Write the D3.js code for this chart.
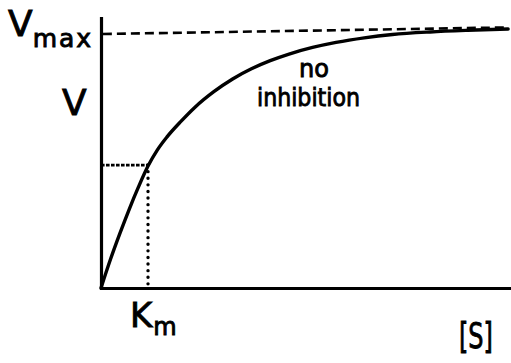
<!DOCTYPE html>
<html>
<head>
<meta charset="utf-8">
<script src="https://cdn.jsdelivr.net/npm/d3@7"></script>
<style>
  html, body { margin: 0; padding: 0; background: #fff; }
  svg { display: block; }
  text { font-family: "DejaVu Sans", sans-serif; fill: #000; stroke: #000; stroke-width: 0.9; }
</style>
</head>
<body>
<script>
// ---- data (S in units of Km, V in units of Vmax) ----
const curveS = [0, 0.2, 0.4, 0.6, 0.8, 1.0, 1.2, 1.4, 1.7, 2.0, 2.4, 2.8, 3.2, 3.6, 4.0, 4.5, 5.0, 5.6, 6.2, 7.0, 7.8, 8.66];
const curveV = [0, 0.112, 0.214, 0.310, 0.399, 0.480, 0.544, 0.594, 0.656, 0.712, 0.773, 0.823, 0.863, 0.895, 0.921, 0.947, 0.967, 0.985, 0.998, 1.008, 1.0145, 1.0197];
const vmaxLineS = [0.04, 8.66];
const vmaxLineV = [1.0, 1.026];
const Km = 1.0;
const VatKm = 0.484;
const labels = { vmax: "V", vmaxSub: "max", v: "V", km: "K", kmSub: "m", s: "[S]", curve1: "no", curve2: "inhibition" };

const W = 511, H = 363;
const svg = d3.select("body").append("svg").attr("width", W).attr("height", H);

const x = d3.scaleLinear().domain([0, 8.7]).range([101, 510]);
const y = d3.scaleLinear().domain([0, 1.063]).range([288, 18]);

// axes (domain lines only)
svg.append("g").attr("transform", `translate(${x(0)},0)`)
  .call(d3.axisLeft(y).tickValues([]).tickSizeOuter(0));
svg.append("g").attr("transform", `translate(0,${y(0)})`)
  .call(d3.axisBottom(x).tickValues([]).tickSizeOuter(0));
svg.selectAll(".domain").attr("stroke", "#000").attr("stroke-width", 3.2).attr("stroke-linecap", "square");

// Vmax dashed line
svg.append("path")
  .datum(vmaxLineS.map((s, i) => [s, vmaxLineV[i]]))
  .attr("d", d3.line().x(d => x(d[0])).y(d => y(d[1])))
  .attr("fill", "none").attr("stroke", "#000").attr("stroke-width", 2.6)
  .attr("stroke-dasharray", "9,5");

// Km guides
svg.append("path")
  .datum([[0, VatKm], [Km, VatKm]])
  .attr("d", d3.line().x(d => x(d[0])).y(d => y(d[1])))
  .attr("fill", "none").attr("stroke", "#000").attr("stroke-width", 2.8)
  .attr("stroke-dasharray", "3.6,1.4");
svg.append("path")
  .datum([[Km, VatKm], [Km, 0]])
  .attr("d", d3.line().x(d => x(d[0])).y(d => y(d[1])))
  .attr("fill", "none").attr("stroke", "#000").attr("stroke-width", 3.4)
  .attr("stroke-linecap", "round")
  .attr("stroke-dasharray", "0,6.6");

// curve
svg.append("path")
  .datum(curveS.map((s, i) => [s, curveV[i]]))
  .attr("d", d3.line().x(d => x(d[0])).y(d => y(d[1])).curve(d3.curveMonotoneX))
  .attr("fill", "none").attr("stroke", "#000").attr("stroke-width", 3.4)
  .attr("stroke-linecap", "round");

// labels
const vm = svg.append("text").attr("x", 8).attr("y", y(1) + 2);
vm.append("tspan").attr("font-size", 36).text(labels.vmax);
vm.append("tspan").attr("font-size", 25).attr("dx", 0).attr("dy", 11).attr("letter-spacing", 2).text(labels.vmaxSub);

svg.append("text").attr("x", 62).attr("y", y(0.68)).attr("font-size", 36).text(labels.v);

const km = svg.append("text").attr("x", x(Km) - 18).attr("y", y(0) + 39);
km.append("tspan").attr("font-size", 34).text(labels.km);
km.append("tspan").attr("font-size", 24).attr("dy", 8).attr("dx", 1).text(labels.kmSub);

svg.append("text").attr("x", x(8.7) - 51).attr("y", y(0) + 60).attr("font-size", 36)
  .attr("textLength", 34).attr("lengthAdjust", "spacingAndGlyphs").text(labels.s);

svg.append("text").attr("x", 314).attr("y", 77).attr("font-size", 24).attr("text-anchor", "middle")
  .text(labels.curve1);
svg.append("text").attr("x", 257).attr("y", 106).attr("font-size", 25)
  .attr("textLength", 103).attr("lengthAdjust", "spacingAndGlyphs").text(labels.curve2);
</script>
</body>
</html>
